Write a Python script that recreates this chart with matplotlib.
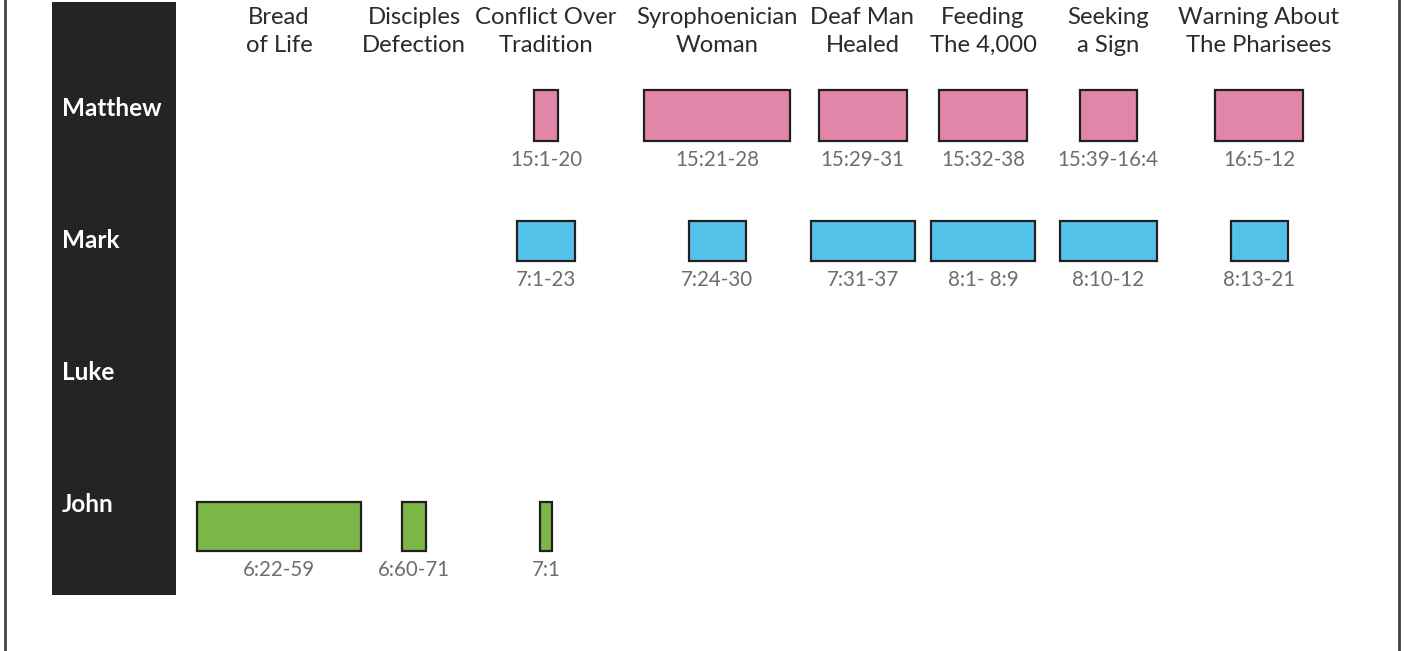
import matplotlib
matplotlib.use("Agg")
import matplotlib.pyplot as plt
from matplotlib.patches import Rectangle

plt.rcParams["font.family"] = ["Lato", "DejaVu Sans"]

# columns (events) and where they sit across the page
events = ["Bread\nof Life", "Disciples\nDefection", "Conflict Over\nTradition",
          "Syrophoenician\nWoman", "Deaf Man\nHealed", "Feeding\nThe 4,000",
          "Seeking\na Sign", "Warning About\nThe Pharisees"]
event_x = [279, 414, 546, 717, 862.5, 983, 1108, 1259]

gospels = ["Matthew", "Mark", "Luke", "John"]

matthew_cols = [2, 3, 4, 5, 6, 7]
matthew_refs = ["15:1-20", "15:21-28", "15:29-31", "15:32-38", "15:39-16:4", "16:5-12"]
matthew_len = [24, 146, 88, 88, 57, 88]

mark_cols = [2, 3, 4, 5, 6, 7]
mark_refs = ["7:1-23", "7:24-30", "7:31-37", "8:1- 8:9", "8:10-12", "8:13-21"]
mark_len = [58, 57, 104, 104, 97, 57]

luke_cols = []
luke_refs = []
luke_len = []

john_cols = [0, 1, 2]
john_refs = ["6:22-59", "6:60-71", "7:1"]
john_len = [164, 24, 12]

rows = [
    (matthew_cols, matthew_refs, matthew_len, "#e286a9", 90, 51),
    (mark_cols, mark_refs, mark_len, "#54c1e9", 221, 40),
    (luke_cols, luke_refs, luke_len, "#7ab648", 353, 50),
    (john_cols, john_refs, john_len, "#7ab648", 502, 49),
]
label_y = [108, 240, 372, 505]

fig = plt.figure(figsize=(14.04, 6.51), dpi=100)
ax = fig.add_axes([0, 0, 1, 1])
ax.set_xlim(0, 1404)
ax.set_ylim(651, 0)
ax.axis("off")

# frame sides
ax.plot([5, 5], [0, 651], color="#444444", lw=2)
ax.plot([1398.5, 1398.5], [0, 651], color="#444444", lw=2)

# dark side panel with gospel names
ax.add_patch(Rectangle((52, 2), 124, 593, facecolor="#252324", edgecolor="none"))
for name, y in zip(gospels, label_y):
    ax.text(62, y, name, color="white", fontsize=17.5, fontweight="bold",
            ha="left", va="center")

for name, x in zip(events, event_x):
    ax.text(x, 31.5, name, color="#2b2b2b", fontsize=17.2, ha="center",
            va="center", linespacing=1.42)

for cols, refs, lens, color, top, h in rows:
    for c, ref, w in zip(cols, refs, lens):
        cx = event_x[c]
        ax.add_patch(Rectangle((cx - w / 2, top), w, h, facecolor=color,
                               edgecolor="#231f20", lw=1.6))
        ax.text(cx, top + h + 19.5, ref, color="#6d6d6d", fontsize=14.8,
                ha="center", va="center")

fig.savefig("out.png", dpi=100)
